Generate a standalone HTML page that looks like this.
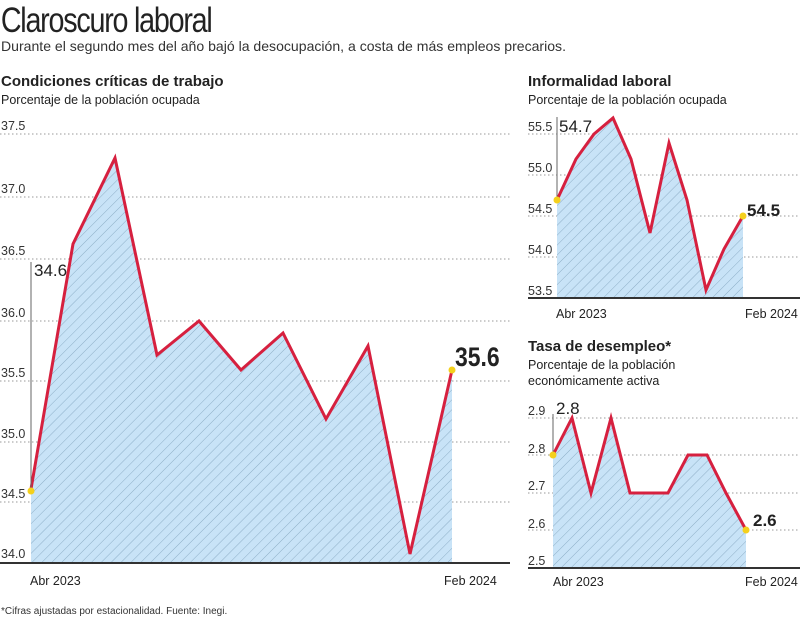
<!DOCTYPE html>
<html><head><meta charset="utf-8"><style>
body{margin:0;width:800px;height:620px;background:#fff;overflow:hidden;font-family:"Liberation Sans",sans-serif;}
</style></head><body>
<svg width="800" height="620" xmlns="http://www.w3.org/2000/svg" font-family="Liberation Sans, sans-serif">
<defs>
<pattern id="h" patternUnits="userSpaceOnUse" width="7" height="7" patternTransform="rotate(45)">
<rect width="7" height="7" fill="#c8e3f7"/><line x1="0" y1="0" x2="0" y2="7" stroke="#88a9c2" stroke-width="0.9"/>
</pattern>
</defs>
<text x="1" y="32" font-size="35" font-family="Liberation Sans Narrow, Liberation Sans, sans-serif" transform="scale(0.82,1)" fill="#222" letter-spacing="-1.5">Claroscuro laboral</text>
<text x="1" y="51" font-size="14" fill="#333" textLength="565" lengthAdjust="spacingAndGlyphs">Durante el segundo mes del año bajó la desocupación, a costa de más empleos precarios.</text>
<text x="1" y="86" font-size="15" font-weight="bold" fill="#222">Condiciones críticas de trabajo</text>
<text x="1" y="104" font-size="12.5" fill="#222">Porcentaje de la población ocupada</text>
<g font-size="12.5" fill="#333" stroke="none">
<text x="1" y="130">37.5</text><text x="1" y="193">37.0</text><text x="1" y="255">36.5</text><text x="1" y="317">36.0</text><text x="1" y="377">35.5</text><text x="1" y="438">35.0</text><text x="1" y="498">34.5</text><text x="1" y="558">34.0</text>
</g>
<g stroke="#999" stroke-dasharray="1.5,2.5" stroke-width="1">
<line x1="0" y1="134" x2="510" y2="134"/><line x1="0" y1="197" x2="510" y2="197"/><line x1="0" y1="259" x2="510" y2="259"/><line x1="0" y1="321" x2="510" y2="321"/><line x1="0" y1="381" x2="510" y2="381"/><line x1="0" y1="442" x2="510" y2="442"/><line x1="0" y1="502" x2="510" y2="502"/>
</g>
<polygon fill="url(#h)" points="31,563 31,489 73,244 115,158 157,355 199,321 241,370 283,333 326,419 368,346 410,554 452,370 452,563"/>
<polyline fill="none" stroke="#d6203f" stroke-width="3" stroke-linejoin="miter" points="31,489 73,244 115,158 157,355 199,321 241,370 283,333 326,419 368,346 410,554 452,370"/>
<line x1="31" y1="489" x2="31" y2="262" stroke="#666" stroke-width="1"/>
<text x="34" y="276" font-size="17" fill="#222">34.6</text>
<circle cx="31" cy="491" r="3.5" fill="#f4d01c"/><circle cx="452" cy="370" r="3.5" fill="#f4d01c"/>
<text x="455" y="366" font-size="27" font-weight="bold" fill="#222" transform="translate(455,0) scale(0.85,1) translate(-455,0)">35.6</text>
<line x1="0" y1="563" x2="510" y2="563" stroke="#333" stroke-width="2"/>
<text x="30" y="585" font-size="12.5" fill="#222">Abr 2023</text>
<text x="444" y="585" font-size="12.5" fill="#222">Feb 2024</text>

<text x="528" y="86" font-size="15" font-weight="bold" fill="#222">Informalidad laboral</text>
<text x="528" y="104" font-size="12.5" fill="#222">Porcentaje de la población ocupada</text>
<g font-size="12.5" fill="#333">
<text x="528" y="131">55.5</text><text x="528" y="172">55.0</text><text x="528" y="213">54.5</text><text x="528" y="254">54.0</text><text x="528" y="295">53.5</text>
</g>
<g stroke="#999" stroke-dasharray="1.5,2.5">
<line x1="528" y1="134" x2="800" y2="134"/><line x1="528" y1="175" x2="800" y2="175"/><line x1="528" y1="216" x2="800" y2="216"/><line x1="528" y1="257" x2="800" y2="257"/>
</g>
<polygon fill="url(#h)" points="557,298 557,200 576,159 594,134 613,118 631,159 650,233 669,143 687,200 706,290 724,249 743,216 743,298"/>
<polyline fill="none" stroke="#d6203f" stroke-width="3" points="557,200 576,159 594,134 613,118 631,159 650,233 669,143 687,200 706,290 724,249 743,216"/>
<line x1="557" y1="200" x2="557" y2="117" stroke="#666"/>
<text x="559" y="132" font-size="17" fill="#222">54.7</text>
<circle cx="557" cy="200" r="3.5" fill="#f4d01c"/><circle cx="743" cy="216" r="3.5" fill="#f4d01c"/>
<text x="747" y="216" font-size="17" font-weight="bold" fill="#222">54.5</text>
<line x1="528" y1="298" x2="800" y2="298" stroke="#333" stroke-width="2"/>
<text x="556" y="318" font-size="12.5" fill="#222">Abr 2023</text>
<text x="745" y="318" font-size="12.5" fill="#222">Feb 2024</text>

<text x="528" y="351" font-size="15" font-weight="bold" fill="#222">Tasa de desempleo*</text>
<text x="528" y="369" font-size="12.5" fill="#222">Porcentaje de la población</text>
<text x="528" y="385" font-size="12.5" fill="#222">económicamente activa</text>
<g font-size="12.5" fill="#333">
<text x="528" y="415">2.9</text><text x="528" y="453">2.8</text><text x="528" y="490">2.7</text><text x="528" y="528">2.6</text><text x="528" y="565">2.5</text>
</g>
<g stroke="#999" stroke-dasharray="1.5,2.5">
<line x1="528" y1="418" x2="800" y2="418"/><line x1="528" y1="455" x2="800" y2="455"/><line x1="528" y1="493" x2="800" y2="493"/><line x1="528" y1="530" x2="800" y2="530"/>
</g>
<polygon fill="url(#h)" points="553,568 553,455 572,418 591,493 611,418 630,493 649,493 668,493 688,455 707,455 726,493 746,530 746,568"/>
<polyline fill="none" stroke="#d6203f" stroke-width="3" points="553,455 572,418 591,493 611,418 630,493 649,493 668,493 688,455 707,455 726,493 746,530"/>
<line x1="553" y1="455" x2="553" y2="414" stroke="#666"/>
<text x="556" y="414" font-size="17" fill="#222">2.8</text>
<circle cx="553" cy="455" r="3.5" fill="#f4d01c"/><circle cx="746" cy="530" r="3.5" fill="#f4d01c"/>
<text x="753" y="526" font-size="17" font-weight="bold" fill="#222">2.6</text>
<line x1="528" y1="568" x2="800" y2="568" stroke="#333" stroke-width="2"/>
<text x="553" y="586" font-size="12.5" fill="#222">Abr 2023</text>
<text x="745" y="586" font-size="12.5" fill="#222">Feb 2024</text>

<text x="1" y="614" font-size="10" fill="#333">*Cifras ajustadas por estacionalidad. Fuente: Inegi.</text>
</svg>
</body></html>
